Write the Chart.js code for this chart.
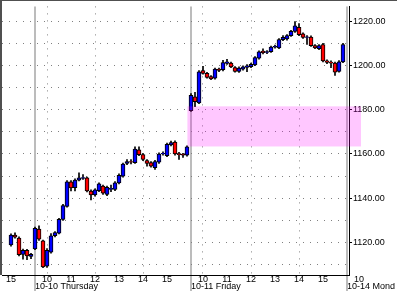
<!DOCTYPE html>
<html>
<head>
<meta charset="utf-8">
<script src="https://cdn.jsdelivr.net/npm/chart.js@4.4.1/dist/chart.umd.min.js"></script>
<style>
  html, body { margin: 0; padding: 0; background: #fff; }
</style>
</head>
<body>
<canvas id="chart" width="397" height="294"></canvas>
<script>
// 10-minute bars, index 0 = Wed 15:00, 6 = Thu 09:30, 45 = Fri 09:30
const opens  = [1119.0, 1123.4, 1122.1, 1114.7, 1116.5, 1113.8,
  1117.2, 1126.1, 1120.8, 1109.4, 1115.7, 1123.1, 1124.3, 1130.5, 1136.4, 1147.4,
  1144.8, 1148.2, 1149.0, 1149.2, 1143.3, 1141.5, 1143.5, 1145.5, 1141.8, 1144.0,
  1144.0, 1147.0, 1150.0, 1155.7, 1156.6, 1156.1, 1161.9, 1159.7, 1157.0, 1156.1,
  1153.8, 1156.3, 1160.0, 1159.2, 1164.1, 1165.4, 1160.2, 1159.8, 1159.5,
  1179.6, 1185.8, 1183.1, 1197.6, 1196.4, 1194.9, 1194.2, 1198.3, 1198.0, 1200.9,
  1201.0, 1199.0, 1197.3, 1198.3, 1199.1, 1199.4, 1200.2, 1203.2, 1206.4, 1205.8,
  1206.2, 1208.2, 1207.9, 1211.6, 1211.9, 1213.4, 1215.3, 1217.2, 1214.2, 1212.6,
  1212.8, 1208.9, 1207.5, 1209.4, 1202.0, 1201.5, 1201.0, 1197.3, 1201.6];
const closes = [1123.4, 1122.5, 1114.6, 1116.5, 1114.0, 1114.7,
  1126.5, 1121.6, 1109.1, 1116.5, 1123.1, 1124.5, 1130.5, 1136.7, 1147.4, 1144.7,
  1148.2, 1149.2, 1149.4, 1143.3, 1141.5, 1143.8, 1146.5, 1142.3, 1145.0, 1144.5,
  1147.0, 1150.4, 1155.4, 1156.6, 1156.3, 1162.2, 1159.7, 1157.5, 1155.8, 1154.5,
  1156.6, 1160.0, 1160.3, 1164.4, 1165.1, 1160.0, 1159.7, 1159.5, 1163.2,
  1186.5, 1183.6, 1197.1, 1196.4, 1194.6, 1193.9, 1198.3, 1197.7, 1201.3, 1201.6,
  1199.3, 1197.3, 1198.8, 1199.3, 1199.8, 1200.5, 1203.5, 1206.1, 1205.7, 1206.2,
  1208.2, 1208.6, 1211.6, 1212.6, 1213.4, 1215.3, 1217.8, 1213.8, 1212.6, 1212.9,
  1208.9, 1207.9, 1208.9, 1202.0, 1201.3, 1201.0, 1196.9, 1201.6, 1209.4];
const highs  = [1124.0, 1124.4, 1122.6, 1117.1, 1117.0, 1115.2,
  1127.0, 1127.6, 1121.2, 1117.3, 1124.1, 1125.0, 1131.0, 1137.3, 1148.0, 1148.0,
  1148.8, 1151.5, 1150.7, 1149.6, 1143.8, 1144.3, 1147.0, 1146.0, 1145.5, 1146.0,
  1147.5, 1151.0, 1155.9, 1157.5, 1157.5, 1163.2, 1163.2, 1160.2, 1157.5, 1156.6,
  1157.1, 1160.5, 1161.0, 1164.9, 1165.8, 1165.9, 1160.7, 1160.3, 1163.7,
  1187.3, 1187.8, 1197.6, 1199.6, 1196.9, 1195.4, 1198.8, 1198.8, 1202.3, 1202.7,
  1201.5, 1199.5, 1199.3, 1199.8, 1200.3, 1201.0, 1204.0, 1206.6, 1207.5, 1206.7,
  1208.7, 1209.1, 1212.1, 1213.4, 1213.9, 1215.8, 1219.7, 1218.9, 1214.7, 1213.4,
  1213.3, 1209.4, 1209.4, 1209.9, 1202.5, 1202.0, 1201.5, 1202.1, 1209.9];
const lows   = [1118.4, 1122.0, 1114.0, 1112.5, 1112.3, 1112.8,
  1116.8, 1121.0, 1108.7, 1108.8, 1115.2, 1122.6, 1123.9, 1130.0, 1136.0, 1143.3,
  1143.3, 1147.8, 1148.5, 1142.9, 1139.3, 1141.0, 1143.0, 1141.8, 1141.2, 1143.0,
  1143.5, 1146.5, 1149.6, 1155.2, 1155.5, 1155.7, 1159.2, 1157.0, 1154.5, 1154.0,
  1153.0, 1155.8, 1159.5, 1158.8, 1163.6, 1159.5, 1157.5, 1158.5, 1159.0,
  1179.2, 1181.4, 1182.7, 1196.0, 1194.2, 1193.5, 1193.8, 1197.2, 1197.5, 1200.4,
  1198.9, 1196.9, 1196.8, 1197.8, 1197.1, 1199.0, 1199.8, 1202.8, 1205.2, 1205.3,
  1205.8, 1207.8, 1207.5, 1211.1, 1211.4, 1213.0, 1214.9, 1213.4, 1212.2, 1209.5,
  1208.5, 1207.5, 1207.1, 1201.6, 1200.8, 1199.0, 1195.4, 1196.9, 1201.2];

const hourTicks  = [0, 9, 15, 21, 27, 33, 39, 48, 54, 60, 66, 72, 78, 87];
const hourLabels = ['15', '10', '11', '12', '13', '14', '15', '10', '11', '12', '13', '14', '15', '10'];
const gridHours  = [9, 21, 33, 48, 60, 72];
const dayTicks   = [6, 45, 84];
const dayLabels  = ['10-10 Thursday', '10-11 Friday', '10-14 Mond'];
const priceTicks = [1110, 1120, 1130, 1140, 1150, 1160, 1170, 1180, 1190, 1200, 1210, 1220];
const gapPrices  = [1163.4, 1181.5];
const gapBars    = [44.1, 87.5];

Chart.defaults.font.family = 'Liberation Sans';
Chart.defaults.font.size = 9;
Chart.defaults.color = '#000';

const gapBox = {
    id: 'gapBox',
    afterDraw(chart) {
        const { ctx, scales: { x, y } } = chart;
        const x1 = x.getPixelForValue(gapBars[0]), x2 = x.getPixelForValue(gapBars[1]);
        const y1 = y.getPixelForValue(gapPrices[1]), y2 = y.getPixelForValue(gapPrices[0]);
        ctx.save();
        ctx.fillStyle = 'rgba(255,0,255,0.22)';
        ctx.fillRect(x1, y1, x2 - x1, y2 - y1);
        // window frame, top and left
        ctx.fillStyle = '#505050';
        ctx.fillRect(0, 0, chart.width, 1);
        ctx.fillRect(0, 0, 2, chart.chartArea.bottom);
        // day separators run on through the label rows
        ctx.fillStyle = '#bcbcbc';
        dayTicks.forEach(v => {
            const px = Math.round(x.getPixelForValue(v));
            ctx.fillRect(px - 1, chart.chartArea.bottom + 1, 2, 15);
        });
        ctx.restore();
    }
};

new Chart(document.getElementById('chart'), {
    type: 'bar',
    data: {
        datasets: [
            {
                label: 'body',
                data: opens.map((o, i) => ({ x: i, y: [o, closes[i]] })),
                backgroundColor: opens.map((o, i) => closes[i] >= o ? '#0000ff' : '#ff0000'),
                borderColor: '#000',
                borderWidth: 1,
                borderSkipped: false,
                barThickness: 4,
                grouped: false,
                order: 0
            },
            {
                label: 'wick',
                data: lows.map((l, i) => ({ x: i, y: [l, highs[i]] })),
                backgroundColor: '#000',
                borderWidth: 0,
                barThickness: 1,
                grouped: false,
                order: 1
            }
        ]
    },
    options: {
        responsive: false,
        animation: false,
        layout: { padding: { left: 2, top: 1, right: 0, bottom: 0 } },
        plugins: { legend: { display: false }, tooltip: { enabled: false } },
        scales: {
            x: {
                type: 'linear', min: -2.25, max: 84.5, offset: false, weight: 0,
                afterBuildTicks: s => { s.ticks = hourTicks.map(v => ({ value: v })); },
                afterFit: s => { s.height = 8; },
                ticks: {
                    autoSkip: false, maxRotation: 0, padding: 1,
                    font: { size: 9, lineHeight: '7px' },
                    callback: v => hourLabels[hourTicks.indexOf(v)]
                },
                grid: {
                    offset: false,
                    drawTicks: false,
                    color: ctx => ctx.tick && gridHours.includes(ctx.tick.value) ? '#808080' : 'transparent'
                },
                border: { color: '#000', width: 1, dash: [1, 6] }
            },
            x2: {
                type: 'linear', position: 'bottom', min: -2.25, max: 84.5, offset: false, weight: 1,
                afterBuildTicks: s => { s.ticks = dayTicks.map(v => ({ value: v })); },
                afterFit: s => { s.height = 11; },
                ticks: {
                    autoSkip: false, maxRotation: 0, align: 'start', padding: 0,
                    font: { size: 9, lineHeight: '8px' },
                    callback: v => dayLabels[dayTicks.indexOf(v)]
                },
                grid: { offset: false, drawTicks: false, color: '#bcbcbc', lineWidth: 2 },
                border: { display: false }
            },
            y: {
                position: 'right', min: 1105.4, max: 1226.6,
                afterBuildTicks: s => { s.ticks = priceTicks.map(v => ({ value: v })); },
                afterFit: s => { s.width = 48; },
                ticks: {
                    padding: 1,
                    callback: v => v % 20 === 0 ? v.toFixed(2) : ''
                },
                grid: {
                    color: '#808080', tickLength: 3,
                    tickColor: ctx => ctx.tick && ctx.tick.value % 20 === 0 ? '#000' : 'transparent'
                },
                border: { color: '#000', width: 1, dash: [1, 6] }
            }
        }
    },
    plugins: [gapBox]
});
</script>
</body>
</html>
